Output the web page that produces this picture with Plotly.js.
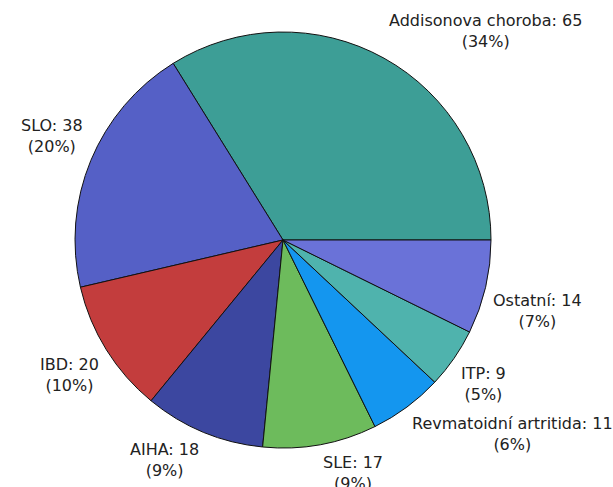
<!DOCTYPE html>
<html>
<head>
<meta charset="utf-8">
<script src="https://cdn.plot.ly/plotly-3.0.1.min.js"></script>
<style>html,body{margin:0;padding:0;background:#fff;}#chart{width:613px;height:487px;}</style>
</head>
<body>
<div id="chart"></div>
<script>
const labels = ["Addisonova choroba", "SLO", "IBD", "AIHA", "SLE", "Revmatoidní artritida", "ITP", "Ostatní"];
const values = [65, 38, 20, 18, 17, 11, 9, 14];
const colors = ["#3d9e96", "#5560c6", "#c33d3d", "#3c47a0", "#6dbb5c", "#1496ef", "#4fb3ad", "#6a72d8"];

const W = 613, H = 487;
const cx = 283, cy = 240, R = 208;     // pie geometry in pixels
const labelR = 214;                    // label anchor distance
const total = values.reduce((a, b) => a + b, 0);

// slices start at 3 o'clock and run counterclockwise
const data = [{
  type: "pie",
  labels: labels,
  values: values,
  sort: false,
  direction: "counterclockwise",
  rotation: 90 - 360 * values[0] / total,
  marker: {colors: colors, line: {color: "#111", width: 1}},
  textinfo: "none",
  hoverinfo: "label+value+percent",
  domain: {x: [(cx - R) / W, (cx + R) / W], y: [1 - (cy + R) / H, 1 - (cy - R) / H]},
  automargin: false
}];

// outside labels placed along each slice's mid-angle
const annotations = [];
let acc = 0;
values.forEach((v, i) => {
  const mid = (acc + v / 2) / total * 2 * Math.PI;
  acc += v;
  const ux = Math.cos(mid), uy = Math.sin(mid);
  const px = cx + labelR * ux, py = cy - labelR * uy;
  const pct = Math.round(100 * v / total);
  annotations.push({
    xref: "paper", yref: "paper",
    x: px / W, y: 1 - py / H,
    xanchor: ux >= 0 ? "left" : "right",
    yanchor: uy >= 0 ? "bottom" : "top",
    align: "center",
    showarrow: false,
    text: labels[i] + ": " + v + "<br>(" + pct + "%)",
    font: {family: "DejaVu Sans", size: 16, color: "#222"}
  });
});

const layout = {
  width: W, height: H,
  margin: {l: 0, r: 0, t: 0, b: 0},
  showlegend: false,
  paper_bgcolor: "#fff",
  font: {family: "DejaVu Sans", size: 16, color: "#222"},
  annotations: annotations
};
Plotly.newPlot("chart", data, layout, {displayModeBar: false, staticPlot: true});
</script>
</body>
</html>
